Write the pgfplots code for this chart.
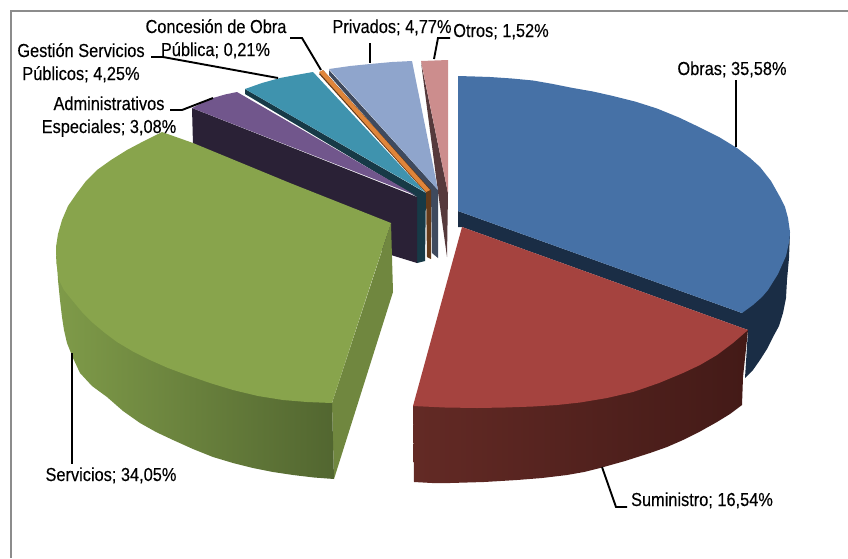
\documentclass[border=0pt]{standalone}
\usepackage{pgfplots}
\pgfplotsset{compat=1.18}
\usepackage{fontspec}
\setmainfont[FakeStretch=0.87,FakeBold=0.25]{Liberation Sans}
\definecolor{obras}{HTML}{4671A6}
\definecolor{obrasd}{HTML}{1A2D45}
\definecolor{sumi}{HTML}{A5433F}
\definecolor{sumiL}{HTML}{632A25}
\definecolor{sumiR}{HTML}{431A17}
\definecolor{serv}{HTML}{88A44C}
\definecolor{servL}{HTML}{7F9B49}
\definecolor{servR}{HTML}{526630}
\definecolor{servf}{HTML}{70873F}
\definecolor{admin}{HTML}{71568C}
\definecolor{admind}{HTML}{2A2136}
\definecolor{gest}{HTML}{3F93AE}
\definecolor{gestd}{HTML}{173A47}
\definecolor{conc}{HTML}{E0853A}
\definecolor{concd}{HTML}{633A1A}
\definecolor{priv}{HTML}{8FA5CC}
\definecolor{privd}{HTML}{3F4A5E}
\definecolor{otros}{HTML}{CC8D8D}
\definecolor{otrosd}{HTML}{563A3C}
\definecolor{frame}{HTML}{8C8C8C}
\pgfplotsset{
  face/.style={draw=none,fill=#1,mark=none,forget plot},
  leader/.style={draw=black,line width=1.9pt,mark=none,forget plot,line join=miter}
}
\tikzset{lab/.style={font=\fontsize{18.8}{20}\selectfont,inner sep=0pt,text height=13.5pt,text depth=3.5pt,anchor=center}}
\begin{document}
\begin{tikzpicture}
\useasboundingbox (0,0) rectangle (848pt,558pt);
\begin{axis}[at={(0,0)},anchor=south west,scale only axis,width=848pt,height=558pt,
  xmin=0,xmax=848,ymin=0,ymax=558,y dir=reverse,axis lines=none,clip=true]
% frame
\addplot[draw=frame,line width=2pt,mark=none,forget plot] coordinates {(10.5,558) (10.5,11) (848,11)};
% Obras
\addplot[face=obrasd] coordinates {(458,211) (458,227) (462,227) (748,330) (745,378) (753,370) (760,360) (767,349) (773,337) (779,326) (783,313) (786,298) (787,280) (789,258) (790,232) (742,313)} --cycle;
\addplot[face=obras] coordinates {(458,76) (475,76.5) (490,77) (512,78.5) (533,80.5) (553,84) (573,88) (593,91.5) (613,96) (635,101.5) (657,108.5) (679,117.5) (700,127.5) (719,137) (737,148) (750,158) (760,167) (771,181) (780,197) (785,207) (788,218) (790,232) (789.5,240) (788,247) (786,256) (782,265) (778,274) (773,282) (768,290) (762,297) (753,305) (742,313) (458,211)} --cycle;
% Otros
\addplot[face=otrosd] coordinates {(421,62) (438,192) (447,257) (448,193)} --cycle;
\addplot[face=otros] coordinates {(421,61) (448,60) (448,193)} --cycle;
% Privados
\addplot[face=privd] coordinates {(329,70) (329,75) (431,192) (432,253) (438,258) (438,190)} --cycle;
\addplot[face=priv] coordinates {(329,69) (350,66) (370,64) (392,62) (412,61) (438,190)} --cycle;
% Concesion
\addplot[face=concd] coordinates {(319,74) (426,193) (427,257) (431,259) (431,190) (323,70)} --cycle;
\addplot[face=conc] coordinates {(319,72) (323,70) (430,190) (426,192)} --cycle;
% Gestion
\addplot[face=gestd] coordinates {(245,89) (245,94) (417,197) (417,263) (425,261) (426,193)} --cycle;
\addplot[face=gest] coordinates {(245,89) (262,83) (280,78) (296,75) (313,72) (425,192)} --cycle;
% Administrativos
\addplot[face=admind] coordinates {(192,108) (193,145) (391,255) (417,263) (417,197)} --cycle;
\addplot[face=admin] coordinates {(192,108) (202,103) (213,98) (225,94.5) (237,92) (415,195)} --cycle;
% Servicios
\addplot[face=servf] coordinates {(332,403) (334,479) (393,292) (391,223)} --cycle;
\addplot[draw=none,mark=none,forget plot,left color=servL,right color=servR] coordinates {(56,247) (58,280) (60,300) (62,317) (64,330) (67,343) (73,358) (80,373) (92,386) (107,397) (123,411) (140,423) (156,432) (173,440) (193,449) (213,457) (233,463) (253,468) (273,472) (293,475) (314,477.5) (334,479) (332,403)} --cycle;
\addplot[face=serv] coordinates {(162,132) (144,141) (127,150) (111,160) (97,170) (86,181) (77,193) (68,206) (62,220) (58,234) (56,247) (56.5,264) (59,280) (64,290) (72,300) (82,312) (93,323) (105,333) (117,342) (133,351.5) (150,360) (168,368) (187,375) (210,383) (233,390) (258,396) (283,400) (307,402) (332,403) (372,280) (391,223) (290,183) (193,143)} --cycle;
% Suministro
\addplot[draw=none,mark=none,forget plot,left color=sumiL,right color=sumiR] coordinates {(413,406) (414,482) (432,483) (450,483) (484,482) (517,480) (542,478) (567,475) (584,472) (600,468) (625,461) (650,453) (667,447) (683,440) (700,431.5) (717,422) (730,414) (742,405) (743,377) (748,330)} --cycle;
\addplot[face=sumi] coordinates {(462,227) (748,330) (733,343) (717,355) (700,365) (683,373) (659,383) (633,392) (607,398) (580,402.5) (557,405) (533,406.5) (505,407.5) (477,408) (445,407.5) (413,406)} --cycle;
% leaders
\addplot[leader] coordinates {(736,80) (736,147)};
\addplot[leader] coordinates {(602,467) (616,507) (627,507)};
\addplot[leader] coordinates {(72,353) (72,464)};
\addplot[leader] coordinates {(170,110) (182,110) (213,98)};
\addplot[leader] coordinates {(151,57) (163,57) (278,78)};
\addplot[leader] coordinates {(290,38) (302,38) (321,70)};
\addplot[leader] coordinates {(370,43) (370,63)};
\addplot[leader] coordinates {(450,38) (438,38) (434,59)};
% labels
\node[lab] at (axis cs:732,70) {Obras; 35,58\%};
\node[lab] at (axis cs:501,32) {Otros; 1,52\%};
\node[lab] at (axis cs:392,28) {Privados; 4,77\%};
\node[lab] at (axis cs:216,28) {Concesión de Obra};
\node[lab] at (axis cs:215.5,51) {Pública; 0,21\%};
\node[lab] at (axis cs:81,52) {Gestión Servicios};
\node[lab] at (axis cs:81,75) {Públicos; 4,25\%};
\node[lab] at (axis cs:109,105) {Administrativos};
\node[lab] at (axis cs:109,128) {Especiales; 3,08\%};
\node[lab] at (axis cs:111,476) {Servicios; 34,05\%};
\node[lab] at (axis cs:702,501) {Suministro; 16,54\%};
\end{axis}
\end{tikzpicture}
\end{document}
